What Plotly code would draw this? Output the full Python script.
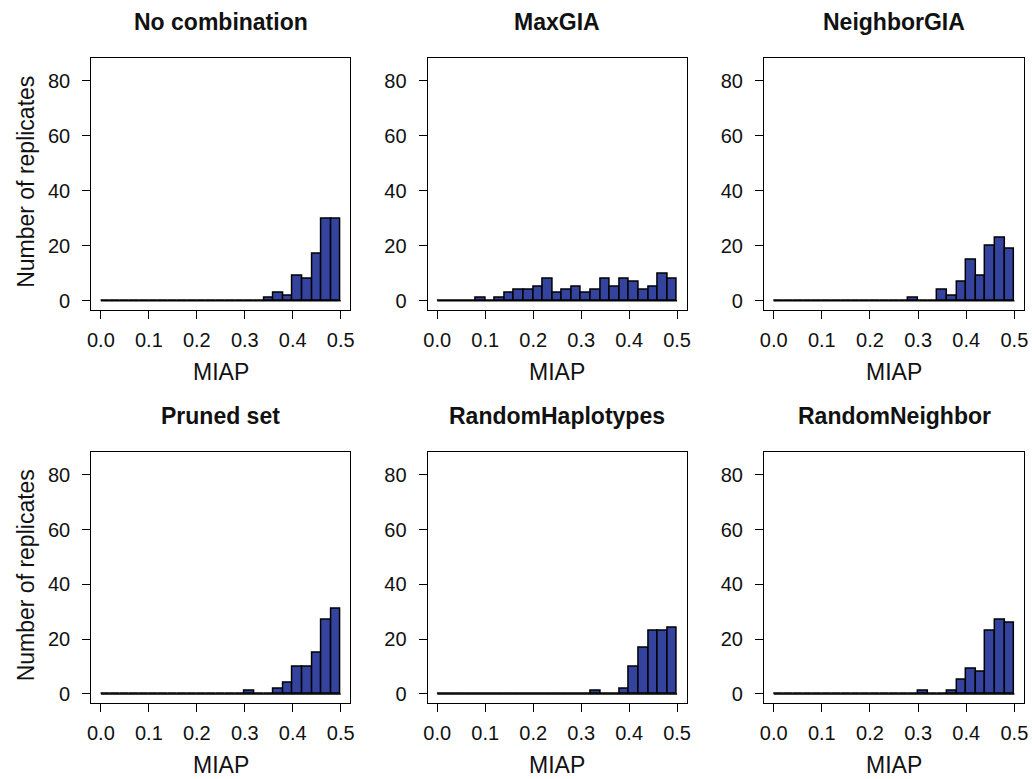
import numpy as np
import plotly.graph_objects as go

# ---- data ----
bin_edges = [round(0.02 * i, 2) for i in range(26)]  # MIAP bins 0.00 .. 0.50
panel_titles = ["No combination", "MaxGIA", "NeighborGIA",
                "Pruned set", "RandomHaplotypes", "RandomNeighbor"]

counts_no_combination = [0]*17 + [1, 3, 2, 9, 8, 17, 30, 30]
counts_maxgia = [0, 0, 0, 0, 1, 0, 1, 3, 4, 4, 5, 8, 3, 4, 5, 3, 4, 8, 5, 8, 7, 4, 5, 10, 8]
counts_neighborgia = [0]*14 + [1, 0, 0, 4, 2, 7, 15, 9, 20, 23, 19]
counts_pruned = [0]*15 + [1, 0, 0, 2, 4, 10, 10, 15, 27, 31]
counts_random_haplotypes = [0]*16 + [1, 0, 0, 2, 10, 17, 23, 23, 24]
counts_random_neighbor = [0]*15 + [1, 0, 0, 1, 5, 9, 8, 23, 27, 26]

all_counts = [counts_no_combination, counts_maxgia, counts_neighborgia,
              counts_pruned, counts_random_haplotypes, counts_random_neighbor]

x_ticks = [0.0, 0.1, 0.2, 0.3, 0.4, 0.5]
x_ticktext = ["0.0", "0.1", "0.2", "0.3", "0.4", "0.5"]
y_ticks = [0, 20, 40, 60, 80]
x_label = "MIAP"
y_label = "Number of replicates"

# ---- layout geometry (pixels) ----
W, H = 1032, 779
col_px = [(88, 349), (427, 688), (766, 1028)]
row_px = [(58, 311), (453, 705)]

FONT = "Liberation Sans, Arial, Helvetica, sans-serif"
BAR_COLOR = "#34449E"

fig = go.Figure()
edges = np.array(bin_edges)
centers = (edges[:-1] + edges[1:]) / 2
widths = np.diff(edges)

annotations = []
for i, (title, counts) in enumerate(zip(panel_titles, all_counts)):
    r, c = divmod(i, 3)
    n = i + 1
    xa = "x" if n == 1 else f"x{n}"
    ya = "y" if n == 1 else f"y{n}"
    x0, x1 = col_px[c]
    yt, yb = row_px[r]
    xdom = [x0 / W, x1 / W]
    ydom = [1 - yb / H, 1 - yt / H]

    # zero-count baseline (R draws empty bins as flat segments)
    fig.add_trace(go.Scatter(x=[edges[0], edges[-1]], y=[0, 0], mode="lines",
                             line=dict(color="black", width=1.5),
                             xaxis=xa, yaxis=ya, showlegend=False, hoverinfo="skip"))
    fig.add_trace(go.Bar(x=centers, y=counts, width=widths,
                         marker=dict(color=BAR_COLOR, line=dict(color="black", width=1.5)),
                         xaxis=xa, yaxis=ya, showlegend=False))

    axis_common = dict(showgrid=False, zeroline=False, showline=True, mirror=True,
                       linecolor="black", linewidth=1.3, ticks="outside", ticklen=8,
                       tickwidth=1.3, tickcolor="black",
                       tickfont=dict(family=FONT, size=20, color="#111"))
    fig.update_layout(**{
        ("xaxis" if n == 1 else f"xaxis{n}"): dict(
            domain=xdom, anchor=ya, range=[-0.02, 0.52],
            tickvals=x_ticks, ticktext=x_ticktext, ticklabelstandoff=4, **axis_common),
        ("yaxis" if n == 1 else f"yaxis{n}"): dict(
            domain=ydom, anchor=xa, range=[-3.4, 88.4],
            tickvals=y_ticks, ticklabelstandoff=8, **axis_common),
    })

    cx = (x0 + x1) / 2 / W
    annotations.append(dict(text=f"<b>{title}</b>", x=cx, y=1 - (yt - 36) / H,
                            xref="paper", yref="paper", showarrow=False,
                            xanchor="center", yanchor="middle",
                            font=dict(family=FONT, size=23, color="#111")))
    annotations.append(dict(text=x_label, x=cx, y=1 - (yb + 62) / H,
                            xref="paper", yref="paper", showarrow=False,
                            xanchor="center", yanchor="middle",
                            font=dict(family=FONT, size=23, color="#111")))
    if c == 0:
        annotations.append(dict(text=y_label, x=22 / W, y=1 - ((yt + yb) / 2 - 2) / H,
                                xref="paper", yref="paper", showarrow=False, textangle=-90,
                                xanchor="center", yanchor="middle",
                                font=dict(family=FONT, size=23, color="#111")))

fig.update_layout(width=W, height=H, margin=dict(l=0, r=0, t=0, b=0),
                  paper_bgcolor="white", plot_bgcolor="white",
                  bargap=0, annotations=annotations)

fig.write_html("out.html", config={"displayModeBar": False},
               post_script="document.body.style.margin='0';document.body.style.overflow='hidden';")
